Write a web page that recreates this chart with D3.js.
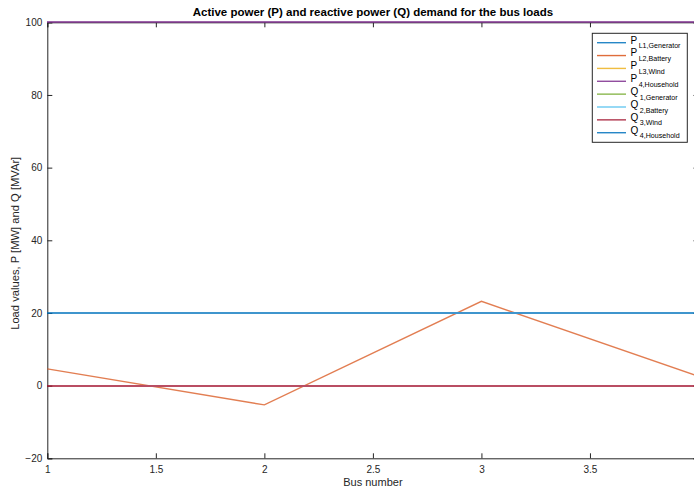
<!DOCTYPE html>
<html>
<head>
<meta charset="utf-8">
<script src="https://cdn.jsdelivr.net/npm/d3@7"></script>
<style>
  html, body { margin: 0; padding: 0; background: #fff; }
  svg { display: block; font-family: "Liberation Sans", Arial, Helvetica, sans-serif; }
</style>
</head>
<body>
<svg id="chart" width="694" height="490"></svg>
<script>
// ---- data ----
const buses = [1, 2, 3, 4];
const P_L1_Generator = [20, 20, 20, 20];
const P_L2_Battery = [4.6, -5.3, 23.2, 2.6];
const P_L3_Wind = [0, 0, 0, 0];
const P_4_Household = [100, 100, 100, 100];
const Q_1_Generator = [0, 0, 0, 0];
const Q_2_Battery = [0, 0, 0, 0];
const Q_3_Wind = [0, 0, 0, 0];
const Q_4_Household = [20, 20, 20, 20];
const xTicks = [1, 1.5, 2, 2.5, 3, 3.5];
const yTicks = [-20, 0, 20, 40, 60, 80, 100];
const seriesNames = [
  ["P", "L1,Generator"], ["P", "L2,Battery"], ["P", "L3,Wind"], ["P", "4,Household"],
  ["Q", "1,Generator"], ["Q", "2,Battery"], ["Q", "3,Wind"], ["Q", "4,Household"]
];
const seriesValues = [P_L1_Generator, P_L2_Battery, P_L3_Wind, P_4_Household,
                      Q_1_Generator, Q_2_Battery, Q_3_Wind, Q_4_Household];
const colors = ["#0072BD", "#D95319", "#EDB120", "#7E2F8E", "#77AC30", "#4DBEEE", "#A2142F", "#0072BD"];

// ---- layout ----
const svg = d3.select("#chart");
const L = 47.3, R = 698.5, T = 22.3, B = 458.3;
const axisColor = "#262626";
const x = d3.scaleLinear().domain([1, 4]).range([L, R]);
const y = d3.scaleLinear().domain([-20, 100]).range([B, T]);

// axes (MATLAB-like, ticks inward, box on)
const gx = svg.append("g").attr("transform", `translate(0,${B})`)
  .call(d3.axisBottom(x).tickValues(xTicks).tickSize(-5).tickPadding(8).tickFormat(d3.format("")));
const gxTop = svg.append("g").attr("transform", `translate(0,${T})`)
  .call(d3.axisTop(x).tickValues(xTicks).tickSize(-5).tickFormat(""));
const gy = svg.append("g").attr("transform", `translate(${L},0)`)
  .call(d3.axisLeft(y).tickValues(yTicks).tickSize(-5).tickPadding(5).tickFormat(d3.format("")));
const gyR = svg.append("g").attr("transform", `translate(${R},0)`)
  .call(d3.axisRight(y).tickValues(yTicks).tickSize(-5).tickFormat(""));
[gx, gxTop, gy, gyR].forEach(g => {
  g.selectAll("path").attr("stroke", axisColor).attr("stroke-width", 1);
  g.selectAll("line").attr("stroke", axisColor).attr("stroke-width", 1);
  g.selectAll("text").attr("fill", axisColor).attr("font-size", 10)
    .attr("font-family", "Liberation Sans, Arial, sans-serif");
});

// lines (group opacity so the topmost series colour wins, softened like the reference)
const lineG = svg.append("g").attr("opacity", 0.75);
const line = d3.line().x((d, i) => x(buses[i])).y(d => y(d));
seriesValues.forEach((vals, k) => {
  const flat = vals.every(v => v === vals[0]);
  lineG.append("path").datum(vals)
    .attr("d", line)
    .attr("fill", "none")
    .attr("stroke", colors[k])
    .attr("stroke-width", flat ? 2 : 1.4)
    .attr("shape-rendering", flat ? "crispEdges" : "auto");
});

// title
svg.append("text").attr("x", (L + R) / 2).attr("y", 15.5)
  .attr("text-anchor", "middle").attr("font-size", 11.5).attr("font-weight", "bold")
  .attr("fill", "#000")
  .text("Active power (P) and reactive power (Q) demand for the bus loads");

// axis labels
svg.append("text").attr("x", (L + R) / 2).attr("y", 486)
  .attr("text-anchor", "middle").attr("font-size", 11).attr("fill", axisColor)
  .text("Bus number");
svg.append("text").attr("transform", `translate(19,${(T + B) / 2 + 3}) rotate(-90)`)
  .attr("text-anchor", "middle").attr("font-size", 11.2).attr("fill", axisColor)
  .text("Load values, P [MW] and Q [MVAr]");

// legend
const lg = svg.append("g");
lg.append("rect").attr("x", 592.3).attr("y", 33.3).attr("width", 95).attr("height", 109)
  .attr("fill", "#fff").attr("stroke", axisColor).attr("stroke-width", 1);
seriesNames.forEach((nm, k) => {
  const ly = 42.7 + k * 12.86;
  lg.append("line").attr("x1", 597).attr("x2", 626).attr("y1", ly).attr("y2", ly)
    .attr("stroke", colors[k]).attr("stroke-opacity", 0.85).attr("stroke-width", 1.4);
  const t = lg.append("text").attr("x", 630.5).attr("y", ly + 0.8)
    .attr("fill", "#000").attr("font-size", 10);
  t.append("tspan").text(nm[0]);
  t.append("tspan").attr("dx", 1.5).attr("dy", 4.8).attr("font-size", 7.1).text(nm[1]);
});
</script>
</body>
</html>
